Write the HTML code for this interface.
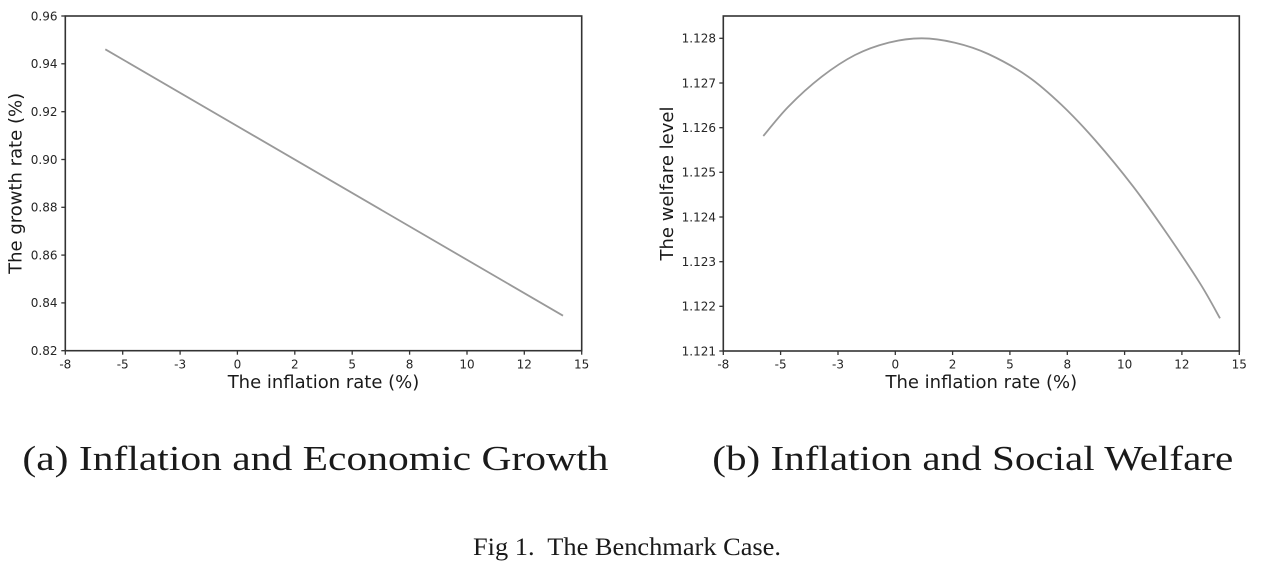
<!DOCTYPE html>
<html>
<head>
<meta charset="utf-8">
<style>
  html,body{margin:0;padding:0;background:#fff;}
  svg{display:block;}
  .tick{font-family:"DejaVu Sans","Liberation Sans",sans-serif;font-size:12px;fill:#262626;}
  .lab{font-family:"DejaVu Sans","Liberation Sans",sans-serif;font-size:18px;fill:#1a1a1a;}
  .cap{font-family:"Liberation Serif",serif;fill:#1a1a1a;}
</style>
</head>
<body>
<svg width="1269" height="566" viewBox="0 0 1269 566" xmlns="http://www.w3.org/2000/svg">
  <rect width="1269" height="566" fill="#fff"/>

  <!-- ===== Left plot ===== -->
  <polyline points="105.3,49.3 563,315.7" fill="none" stroke="#999" stroke-width="1.8"/>
  <rect x="65.3" y="16" width="516.4" height="334.7" fill="none" stroke="#333" stroke-width="1.6"/>
  <g stroke="#333" stroke-width="1.3">
    <line x1="65.3" y1="350.7" x2="65.3" y2="354.7"/>
    <line x1="122.7" y1="350.7" x2="122.7" y2="354.7"/>
    <line x1="180.1" y1="350.7" x2="180.1" y2="354.7"/>
    <line x1="237.4" y1="350.7" x2="237.4" y2="354.7"/>
    <line x1="294.8" y1="350.7" x2="294.8" y2="354.7"/>
    <line x1="352.2" y1="350.7" x2="352.2" y2="354.7"/>
    <line x1="409.6" y1="350.7" x2="409.6" y2="354.7"/>
    <line x1="467.0" y1="350.7" x2="467.0" y2="354.7"/>
    <line x1="524.3" y1="350.7" x2="524.3" y2="354.7"/>
    <line x1="581.7" y1="350.7" x2="581.7" y2="354.7"/>
    <line x1="61.3" y1="350.7" x2="65.3" y2="350.7"/>
    <line x1="61.3" y1="302.9" x2="65.3" y2="302.9"/>
    <line x1="61.3" y1="255.1" x2="65.3" y2="255.1"/>
    <line x1="61.3" y1="207.3" x2="65.3" y2="207.3"/>
    <line x1="61.3" y1="159.5" x2="65.3" y2="159.5"/>
    <line x1="61.3" y1="111.7" x2="65.3" y2="111.7"/>
    <line x1="61.3" y1="63.8" x2="65.3" y2="63.8"/>
    <line x1="61.3" y1="16" x2="65.3" y2="16"/>
  </g>
  <g class="tick" text-anchor="middle">
    <text x="65.3" y="368.5">-8</text>
    <text x="122.7" y="368.5">-5</text>
    <text x="180.1" y="368.5">-3</text>
    <text x="237.4" y="368.5">0</text>
    <text x="294.8" y="368.5">2</text>
    <text x="352.2" y="368.5">5</text>
    <text x="409.6" y="368.5">8</text>
    <text x="467.0" y="368.5">10</text>
    <text x="524.3" y="368.5">12</text>
    <text x="581.7" y="368.5">15</text>
  </g>
  <g class="tick" text-anchor="end">
    <text x="57.5" y="355">0.82</text>
    <text x="57.5" y="307.2">0.84</text>
    <text x="57.5" y="259.4">0.86</text>
    <text x="57.5" y="211.6">0.88</text>
    <text x="57.5" y="163.8">0.90</text>
    <text x="57.5" y="116">0.92</text>
    <text x="57.5" y="68.1">0.94</text>
    <text x="57.5" y="20.3">0.96</text>
  </g>
  <text class="lab" x="323.5" y="388" text-anchor="middle">The inflation rate (%)</text>
  <text class="lab" transform="translate(21.5,183.4) rotate(-90)" text-anchor="middle">The growth rate (%)</text>

  <!-- ===== Right plot ===== -->
  <path d="M763.3,136 C767.5,131.1 778.6,116.6 788.3,106.7 C798.0,96.8 810.6,85.3 821.7,76.7 C832.8,68.1 843.9,60.7 855,55 C866.1,49.3 877.2,45.5 888.3,42.7 C899.4,39.9 910.6,38.3 921.7,38.3 C932.8,38.3 943.9,40.1 955,42.7 C966.1,45.3 976.1,48.3 988.3,54 C1000.5,59.7 1016.1,68.2 1028.3,76.7 C1040.5,85.2 1050.6,94.5 1061.7,105 C1072.8,115.6 1083.1,126.4 1095,140 C1106.9,153.6 1121.4,171.2 1133.3,186.7 C1145.2,202.2 1155.6,217.2 1166.7,233.3 C1177.8,249.4 1191.1,269.1 1200,283.3 C1208.9,297.5 1216.7,312.5 1220,318.3" fill="none" stroke="#999" stroke-width="1.8"/>
  <rect x="723.3" y="16" width="516" height="335" fill="none" stroke="#333" stroke-width="1.6"/>
  <g stroke="#333" stroke-width="1.3">
    <line x1="723.3" y1="351" x2="723.3" y2="355"/>
    <line x1="780.6" y1="351" x2="780.6" y2="355"/>
    <line x1="838.0" y1="351" x2="838.0" y2="355"/>
    <line x1="895.3" y1="351" x2="895.3" y2="355"/>
    <line x1="952.6" y1="351" x2="952.6" y2="355"/>
    <line x1="1009.9" y1="351" x2="1009.9" y2="355"/>
    <line x1="1067.3" y1="351" x2="1067.3" y2="355"/>
    <line x1="1124.6" y1="351" x2="1124.6" y2="355"/>
    <line x1="1181.9" y1="351" x2="1181.9" y2="355"/>
    <line x1="1239.3" y1="351" x2="1239.3" y2="355"/>
    <line x1="719.3" y1="351" x2="723.3" y2="351"/>
    <line x1="719.3" y1="306.3" x2="723.3" y2="306.3"/>
    <line x1="719.3" y1="261.7" x2="723.3" y2="261.7"/>
    <line x1="719.3" y1="217.0" x2="723.3" y2="217.0"/>
    <line x1="719.3" y1="172.3" x2="723.3" y2="172.3"/>
    <line x1="719.3" y1="127.7" x2="723.3" y2="127.7"/>
    <line x1="719.3" y1="83.0" x2="723.3" y2="83.0"/>
    <line x1="719.3" y1="38.3" x2="723.3" y2="38.3"/>
  </g>
  <g class="tick" text-anchor="middle">
    <text x="723.3" y="368.5">-8</text>
    <text x="780.6" y="368.5">-5</text>
    <text x="838.0" y="368.5">-3</text>
    <text x="895.3" y="368.5">0</text>
    <text x="952.6" y="368.5">2</text>
    <text x="1009.9" y="368.5">5</text>
    <text x="1067.3" y="368.5">8</text>
    <text x="1124.6" y="368.5">10</text>
    <text x="1181.9" y="368.5">12</text>
    <text x="1239.3" y="368.5">15</text>
  </g>
  <g class="tick" text-anchor="end">
    <text x="716" y="355.3">1.121</text>
    <text x="716" y="310.6">1.122</text>
    <text x="716" y="266">1.123</text>
    <text x="716" y="221.3">1.124</text>
    <text x="716" y="176.6">1.125</text>
    <text x="716" y="132">1.126</text>
    <text x="716" y="87.3">1.127</text>
    <text x="716" y="42.6">1.128</text>
  </g>
  <text class="lab" x="981.3" y="388" text-anchor="middle">The inflation rate (%)</text>
  <text class="lab" transform="translate(673,183.5) rotate(-90)" text-anchor="middle">The welfare level</text>

  <!-- ===== Captions ===== -->
  <text class="cap" x="22.4" y="470" font-size="35" textLength="586" lengthAdjust="spacingAndGlyphs">(a) Inflation and Economic Growth</text>
  <text class="cap" x="712.3" y="470" font-size="35" textLength="521" lengthAdjust="spacingAndGlyphs">(b) Inflation and Social Welfare</text>
  <text class="cap" x="473" y="555" font-size="25" textLength="308" lengthAdjust="spacingAndGlyphs" xml:space="preserve">Fig 1.  The Benchmark Case.</text>
</svg>
</body>
</html>
